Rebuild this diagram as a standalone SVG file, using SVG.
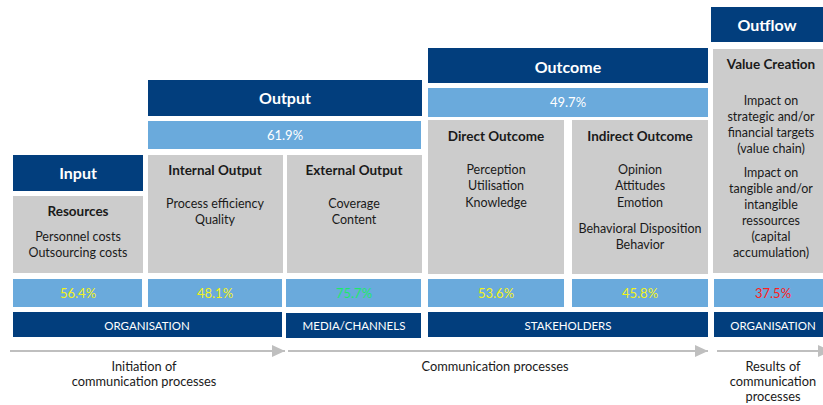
<svg xmlns="http://www.w3.org/2000/svg" width="823" height="405" viewBox="0 0 823 405">
<defs>
<style>
.dk{fill:#023e7d}
.lb{fill:#6aaadc}
.gr{fill:#cccccc}
text{font-family:Lato,"Liberation Sans",sans-serif;text-anchor:middle}
.h{fill:#ffffff;font-weight:bold;font-size:16px}
.sh{fill:#1a1a1a;font-weight:bold;font-size:13.5px}
.b{fill:#1a1a1a;font-size:12.5px}
.p{font-size:13px}
.w{fill:#ffffff}
.y{fill:#f2f21a}
.g{fill:#1ee86a}
.r{fill:#ff2020}
.bar{fill:#ffffff;font-size:11.5px}
.lab{fill:#1a1a1a;font-size:12.8px}
.arr{stroke:#bfbfbf;stroke-width:2;fill:none}
</style>
<marker id="ah" viewBox="0 0 13 12" refX="13" refY="6" markerWidth="13" markerHeight="12" markerUnits="userSpaceOnUse" orient="auto">
<path d="M0,0 L13,6 L0,12 Z" fill="#bfbfbf"/>
</marker>
</defs>
<rect width="823" height="405" fill="#ffffff"/>

<g id="input">
<rect class="dk" x="13" y="155" width="130" height="36"/>
<text class="h" x="78" y="179">Input</text>
<rect class="gr" x="13" y="196" width="130" height="77"/>
<text class="sh" x="78" y="216">Resources</text>
<text class="b" x="78" y="241">Personnel costs</text>
<text class="b" x="78" y="257">Outsourcing costs</text>
</g>

<g id="output">
<rect class="dk" x="148" y="80" width="274" height="36"/>
<text class="h" x="285" y="104">Output</text>
<rect class="lb" x="148" y="121" width="273" height="28"/>
<text class="p w" x="285" y="140">61.9%</text>
</g>

<g id="internal-output">
<rect class="gr" x="148" y="155" width="135" height="118"/>
<text class="sh" x="215" y="175">Internal Output</text>
<text class="b" x="215" y="208">Process efficiency</text>
<text class="b" x="215" y="224">Quality</text>
</g>

<g id="external-output">
<rect class="gr" x="287" y="155" width="135" height="118"/>
<text class="sh" x="354" y="175">External Output</text>
<text class="b" x="354" y="208">Coverage</text>
<text class="b" x="354" y="224">Content</text>
</g>

<g id="outcome">
<rect class="dk" x="428" y="48" width="280" height="35"/>
<text class="h" x="568" y="73">Outcome</text>
<rect class="lb" x="428" y="88" width="280" height="29"/>
<text class="p w" x="568" y="107">49.7%</text>
</g>

<g id="direct-outcome">
<rect class="gr" x="428" y="120" width="136" height="154"/>
<text class="sh" x="496" y="141">Direct Outcome</text>
<text class="b" x="496" y="174">Perception</text>
<text class="b" x="496" y="190">Utilisation</text>
<text class="b" x="496" y="207">Knowledge</text>
</g>

<g id="indirect-outcome">
<rect class="gr" x="572" y="120" width="136" height="154"/>
<text class="sh" x="640" y="141">Indirect Outcome</text>
<text class="b" x="640" y="174">Opinion</text>
<text class="b" x="640" y="190">Attitudes</text>
<text class="b" x="640" y="207">Emotion</text>
<text class="b" x="640" y="233">Behavioral Disposition</text>
<text class="b" x="640" y="249">Behavior</text>
</g>

<g id="outflow">
<rect class="dk" x="711" y="7" width="120" height="35"/>
<text class="h" x="767" y="31">Outflow</text>
</g>

<g id="value-creation">
<rect class="gr" x="713" y="49" width="118" height="224"/>
<text class="sh" x="771" y="69">Value Creation</text>
<text class="b" x="771" y="105">Impact on</text>
<text class="b" x="771" y="121">strategic and/or</text>
<text class="b" x="771" y="137">financial targets</text>
<text class="b" x="771" y="153">(value chain)</text>
<text class="b" x="771" y="177">Impact on</text>
<text class="b" x="771" y="193">tangible and/or</text>
<text class="b" x="771" y="209">intangible</text>
<text class="b" x="771" y="225">ressources</text>
<text class="b" x="771" y="241">(capital</text>
<text class="b" x="771" y="257">accumulation)</text>
</g>

<g id="percentages">
<rect class="lb" x="13" y="279" width="129" height="28"/>
<text class="p y" x="78" y="298">56.4%</text>
<rect class="lb" x="148" y="279" width="134" height="28"/>
<text class="p y" x="215" y="298">48.1%</text>
<rect class="lb" x="286" y="279" width="135" height="28"/>
<text class="p g" x="354" y="298">75.7%</text>
<rect class="lb" x="428" y="279" width="136" height="28"/>
<text class="p y" x="496" y="298">53.6%</text>
<rect class="lb" x="572" y="279" width="136" height="28"/>
<text class="p y" x="640" y="298">45.8%</text>
<rect class="lb" x="714" y="279" width="117" height="28"/>
<text class="p r" x="773" y="298">37.5%</text>
</g>

<g id="actors">
<rect class="dk" x="13" y="312" width="269" height="25"/>
<text class="bar" x="147" y="330">ORGANISATION</text>
<rect class="dk" x="286" y="313" width="135" height="25"/>
<text class="bar" x="354" y="330">MEDIA/CHANNELS</text>
<rect class="dk" x="428" y="312" width="280" height="25"/>
<text class="bar" x="568" y="330">STAKEHOLDERS</text>
<rect class="dk" x="714" y="312" width="117" height="25"/>
<text class="bar" x="773" y="330">ORGANISATION</text>
</g>

<g id="connectors">
<line class="arr" x1="10" y1="351" x2="285" y2="351" marker-end="url(#ah)"/>
<line class="arr" x1="288" y1="351" x2="708" y2="351" marker-end="url(#ah)"/>
<line class="arr" x1="717" y1="351" x2="831" y2="351" marker-end="url(#ah)"/>
</g>

<g id="phase-labels">
<text class="lab" x="144" y="371">Initiation of</text>
<text class="lab" x="144" y="386">communication processes</text>
<text class="lab" x="495" y="371">Communication processes</text>
<text class="lab" x="773" y="371">Results of</text>
<text class="lab" x="773" y="386">communication</text>
<text class="lab" x="773" y="401">processes</text>
</g>
</svg>
